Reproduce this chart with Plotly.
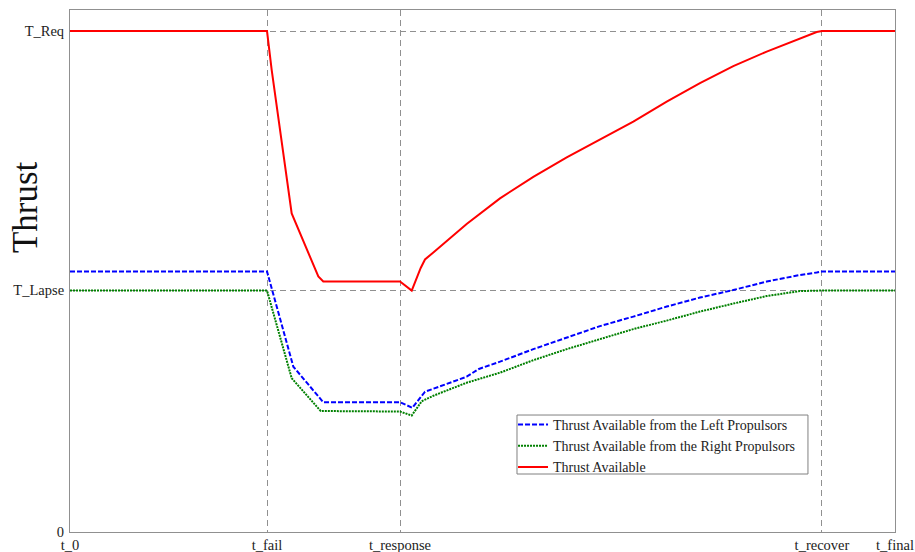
import plotly.graph_objects as go

# Axis tick positions (time in % of run, thrust normalized to T_Req)
x_tick_vals = [0, 23.88, 40.0, 91.15, 100]
x_tick_text = ["t_0", "t_fail", "t_response", "t_recover", "t_final"]
y_tick_vals = [0, 0.483, 1.0]
y_tick_text = ["0", "T_Lapse", "T_Req"]

# Thrust Available from the Left Propulsors
left_x = [0, 23.88, 27.07, 30.70, 40.0, 41.49, 43.03, 45.25, 48.08, 49.49, 52.12, 56.16,
          60.21, 64.24, 68.28, 72.33, 76.36, 80.40, 84.45, 88.48, 90.51, 91.15, 100]
left_y = [0.520, 0.520, 0.330, 0.259, 0.259, 0.248, 0.280, 0.293, 0.310, 0.325, 0.340, 0.365,
          0.388, 0.411, 0.430, 0.450, 0.468, 0.483, 0.500, 0.513, 0.518, 0.520, 0.520]

# Thrust Available from the Right Propulsors
right_x = [0, 23.88, 26.87, 30.39, 40.0, 41.42, 42.63, 44.04, 48.08, 52.12, 56.16, 60.21,
           64.24, 68.28, 72.33, 76.36, 80.40, 84.45, 88.48, 91.15, 100]
right_y = [0.482, 0.482, 0.307, 0.2415, 0.2405, 0.2325, 0.261, 0.272, 0.298, 0.318, 0.343, 0.365,
           0.385, 0.405, 0.422, 0.440, 0.456, 0.471, 0.481, 0.482, 0.482]

# Thrust Available
total_x = [0, 23.88, 24.45, 26.87, 30.10, 30.70, 40.0, 41.42, 42.51, 43.03, 44.04, 48.08,
           52.12, 56.16, 60.21, 64.24, 68.28, 72.33, 76.36, 80.40, 84.45, 90.51, 91.15, 100]
total_y = [1.0, 1.0, 0.922, 0.636, 0.510, 0.500, 0.500, 0.482, 0.527, 0.544, 0.558, 0.615,
           0.666, 0.709, 0.748, 0.784, 0.819, 0.859, 0.896, 0.930, 0.959, 0.998, 1.0, 1.0]

FONT = "Liberation Serif, Times New Roman, serif"

fig = go.Figure()
fig.add_trace(go.Scatter(x=left_x, y=left_y, mode="lines",
                         name="Thrust Available from the Left Propulsors",
                         line=dict(color="#0000FF", width=2, dash="5px,2px")))
fig.add_trace(go.Scatter(x=right_x, y=right_y, mode="lines",
                         name="Thrust Available from the Right Propulsors",
                         line=dict(color="#008000", width=2, dash="2px,1px")))
fig.add_trace(go.Scatter(x=total_x, y=total_y, mode="lines",
                         name="Thrust Available",
                         line=dict(color="#FF0000", width=2)))

fig.update_layout(
    width=915, height=552,
    margin=dict(l=70, r=20, t=10, b=20, autoexpand=False),
    plot_bgcolor="white", paper_bgcolor="white",
    font=dict(family=FONT, size=14.5, color="#222"),
    showlegend=True,
    legend=dict(x=0.537, y=0.2356, xanchor="left", yanchor="top",
                borderwidth=0, bgcolor="rgba(0,0,0,0)",
                font=dict(family=FONT, size=14, color="#222"),
                tracegroupgap=0, itemwidth=30),
    xaxis=dict(range=[0, 100], tickmode="array", tickvals=x_tick_vals, ticktext=x_tick_text,
               showline=True, linecolor="#909090", linewidth=1, mirror=True,
               showgrid=True, gridcolor="#909090", gridwidth=1, griddash="6px,4px",
               zeroline=False, ticks="", ticklabelstandoff=0, automargin=False),
    yaxis=dict(range=[0, 1.042], tickmode="array", tickvals=y_tick_vals, ticktext=y_tick_text,
               showline=True, linecolor="#909090", linewidth=1, mirror=True,
               showgrid=True, gridcolor="#909090", gridwidth=1, griddash="6px,4px",
               zeroline=False, ticks="", ticklabelstandoff=2, automargin=False),
    shapes=[dict(type="rect", xref="paper", yref="paper", x0=0.5418, x1=0.8945,
                 y0=0.1111, y1=0.2241, line=dict(color="#808080", width=1),
                 fillcolor="white", layer="above")],
    annotations=[dict(text="Thrust", xref="paper", yref="paper", x=-0.053, y=0.623,
                      xanchor="center", yanchor="middle", textangle=-90, showarrow=False,
                      font=dict(family=FONT, size=35, color="#111"))],
)

fig.write_html("out.html", config={"displayModeBar": False},
               post_script="document.body.style.margin='0';document.body.style.overflow='hidden';")
